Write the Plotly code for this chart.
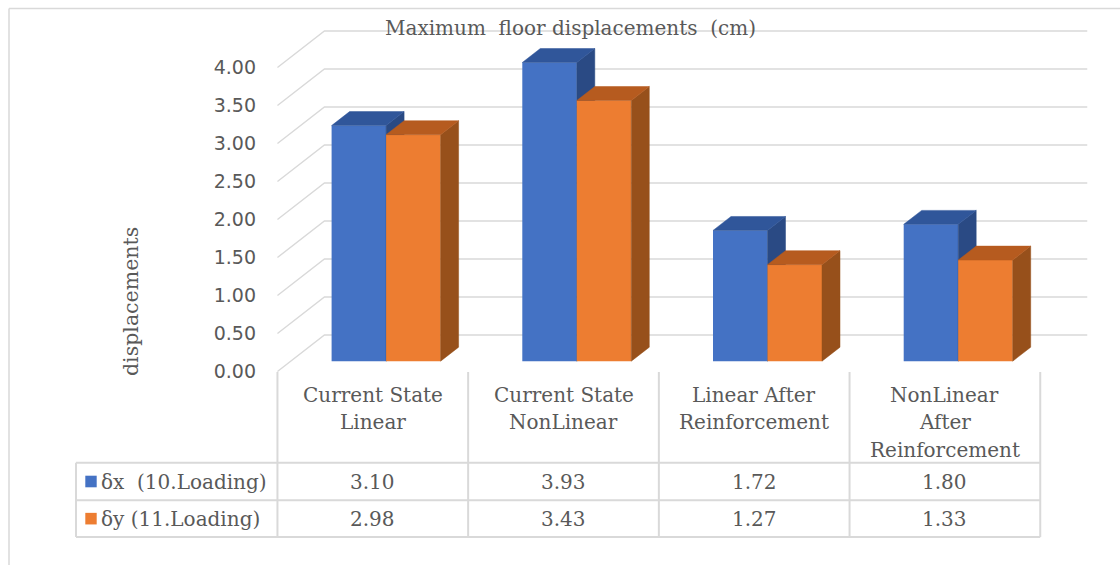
import plotly.graph_objects as go

# ---- data -------------------------------------------------------------
categories = [
    "Current State\nLinear",
    "Current State\nNonLinear",
    "Linear After\nReinforcement",
    "NonLinear\nAfter\nReinforcement",
]
series_names = ["δx  (10.Loading)", "δy (11.Loading)"]
delta_x = [3.10, 3.93, 1.72, 1.80]
delta_y = [2.98, 3.43, 1.27, 1.33]
y_ticks = [0.0, 0.5, 1.0, 1.5, 2.0, 2.5, 3.0, 3.5, 4.0]
chart_title = "Maximum  floor displacements  (cm)"
y_title = "displacements"

# ---- page geometry / projection --------------------------------------
W, H = 1120, 565
CAT0_PX, PX_PER_CAT = 372.8, 190.7      # front plane: category 0 centre, category pitch
ZERO_PX, PX_PER_UNIT = 371.5, 76.0      # front plane: value 0 row, pixels per unit

DEPTH_X = 47.0 / PX_PER_CAT             # oblique depth vector of the floor/walls (data units)
DEPTH_Y = 36.5 / PX_PER_UNIT
BAR_T0, BAR_T1 = 0.283, 0.666           # bars sit between these fractions of the depth
BAR_W = 54.5 / PX_PER_CAT               # width of one bar front face

FRONT_COLORS = ["#4472C4", "#ED7D31"]
TOP_COLORS = ["#30569A", "#B65B1F"]
SIDE_COLORS = ["#2A4A84", "#97501B"]
GRID = "#D9D9D9"
TEXT = "#595959"
SERIF = "DejaVu Serif"
SANS = "DejaVu Sans"
TABLE_FONT = dict(family=SERIF, size=20, color=TEXT)


def x_of_px(p):
    return (p - CAT0_PX) / PX_PER_CAT


def py(p):
    return 1 - p / H


def px(p):
    return p / W


x_range = [x_of_px(0), x_of_px(W)]
y_range = [-(H - ZERO_PX) / PX_PER_UNIT, ZERO_PX / PX_PER_UNIT]

fig = go.Figure()

# ---- back wall grid with diagonal floor/wall edges --------------------
gx, gy = [], []
left, right = -0.5, len(categories) - 0.5
for v in y_ticks:
    gx += [left, left + DEPTH_X, right + DEPTH_X, None]
    gy += [v, v + DEPTH_Y, v + DEPTH_Y, None]
fig.add_trace(go.Scatter(x=gx, y=gy, mode="lines", line=dict(color=GRID, width=1.4),
                         hoverinfo="skip", showlegend=False, xaxis="x", yaxis="y"))

# ---- 3-D columns ------------------------------------------------------
shift = BAR_T0 * DEPTH_X
ddx = (BAR_T1 - BAR_T0) * DEPTH_X
ddy = (BAR_T1 - BAR_T0) * DEPTH_Y
series = [delta_x, delta_y]
axes = ["y2", "y3"]
offsets = [shift - BAR_W, shift]
xs = list(range(len(categories)))

for s, values in enumerate(series):
    ax = axes[s]
    fig.add_trace(go.Bar(x=xs, y=values, base=0, width=BAR_W, offset=offsets[s],
                         marker=dict(color=FRONT_COLORS[s], line=dict(width=0)),
                         name=series_names[s], showlegend=False, xaxis="x", yaxis=ax))
    sx, sy, tx, ty = [], [], [], []
    for i, v in enumerate(values):
        a = i + offsets[s]
        b = a + BAR_W
        sx += [b, b, b + ddx, b + ddx, b, None]
        sy += [0, v, v + ddy, ddy, 0, None]
        tx += [a, b, b + ddx, a + ddx, a, None]
        ty += [v, v, v + ddy, v + ddy, v, None]
    fig.add_trace(go.Scatter(x=sx, y=sy, mode="lines", fill="toself", fillcolor=SIDE_COLORS[s],
                             line=dict(width=0.5, color=SIDE_COLORS[s]), hoverinfo="skip",
                             showlegend=False, xaxis="x", yaxis=ax))
    fig.add_trace(go.Scatter(x=tx, y=ty, mode="lines", fill="toself", fillcolor=TOP_COLORS[s],
                             line=dict(width=0.5, color=TOP_COLORS[s]), hoverinfo="skip",
                             showlegend=False, xaxis="x", yaxis=ax))

# ---- data table -------------------------------------------------------
shapes = []
annotations = []
TBL_TOP, ROW1, ROW2, TBL_BOT = 372.0, 462.7, 500.3, 537.0
LEG_LEFT = x_of_px(76)
for k in range(len(categories) + 1):
    xv = k - 0.5
    shapes.append(dict(type="line", xref="x", yref="paper", x0=xv, x1=xv,
                       y0=py(TBL_TOP), y1=py(TBL_BOT), line=dict(color=GRID, width=2)))
shapes.append(dict(type="line", xref="x", yref="paper", x0=LEG_LEFT, x1=LEG_LEFT,
                   y0=py(ROW1), y1=py(TBL_BOT), line=dict(color=GRID, width=2)))
for yy in (ROW1, ROW2, TBL_BOT):
    shapes.append(dict(type="line", xref="x", yref="paper", x0=LEG_LEFT, x1=right,
                       y0=py(yy), y1=py(yy), line=dict(color=GRID, width=2)))

# outer chart frame
shapes.append(dict(type="line", xref="paper", yref="paper", x0=px(9), x1=1.01,
                   y0=py(8.5), y1=py(8.5), line=dict(color=GRID, width=1.5)))
shapes.append(dict(type="line", xref="paper", yref="paper", x0=px(9), x1=px(9),
                   y0=py(8.5), y1=-0.01, line=dict(color=GRID, width=1.5)))

LINE_PITCH = 27.5
for i, cat in enumerate(categories):
    for j, line in enumerate(cat.split("\n")):
        annotations.append(dict(x=i, xref="x", y=py(394.5 + j * LINE_PITCH), yref="paper",
                                text=line, showarrow=False, xanchor="center", yanchor="middle",
                                font=TABLE_FONT))

row_centres = [(ROW1 + ROW2) / 2, (ROW2 + TBL_BOT) / 2]
for s, values in enumerate(series):
    yc = row_centres[s]
    for i, v in enumerate(values):
        annotations.append(dict(x=i, xref="x", y=py(yc), yref="paper", text=f"{v:.2f}",
                                showarrow=False, xanchor="center", yanchor="middle",
                                font=TABLE_FONT))
    shapes.append(dict(type="rect", xref="paper", yref="paper", x0=px(85.3), x1=px(96.7),
                       y0=py(yc - 5.8), y1=py(yc + 5.8), fillcolor=FRONT_COLORS[s],
                       line=dict(width=0)))
    annotations.append(dict(x=px(99), xref="paper", y=py(yc), yref="paper",
                            text=series_names[s], showarrow=False, xanchor="left",
                            yanchor="middle", font=TABLE_FONT))

# titles
annotations.append(dict(x=px(570), y=py(28), xref="paper", yref="paper", text=chart_title,
                        showarrow=False, xanchor="center", yanchor="middle",
                        font=dict(family=SERIF, size=20, color=TEXT)))
annotations.append(dict(x=px(131), y=py(302), xref="paper", yref="paper", text=y_title,
                        textangle=-90, showarrow=False, xanchor="center", yanchor="middle",
                        font=dict(family=SERIF, size=20.5, color=TEXT)))

bar_shift_y = BAR_T0 * DEPTH_Y
fig.update_layout(
    width=W, height=H, margin=dict(l=0, r=0, t=0, b=0),
    paper_bgcolor="white", plot_bgcolor="white", showlegend=False,
    barmode="overlay",
    xaxis=dict(range=x_range, domain=[0, 1], visible=False, fixedrange=True),
    yaxis=dict(range=y_range, domain=[0, 1], anchor="free", position=px(256),
               tickvals=y_ticks, ticktext=[f"{v:.2f}" for v in y_ticks],
               showgrid=False, zeroline=False, showline=False, ticks="",
               tickfont=dict(family=SANS, size=19, color=TEXT)),
    yaxis2=dict(range=[y_range[0] - bar_shift_y, y_range[1] - bar_shift_y],
                overlaying="y", anchor="x", visible=False),
    yaxis3=dict(range=[y_range[0] - bar_shift_y, y_range[1] - bar_shift_y],
                overlaying="y", anchor="x", visible=False),
    shapes=shapes, annotations=annotations,
)

fig.write_html("out.html")
